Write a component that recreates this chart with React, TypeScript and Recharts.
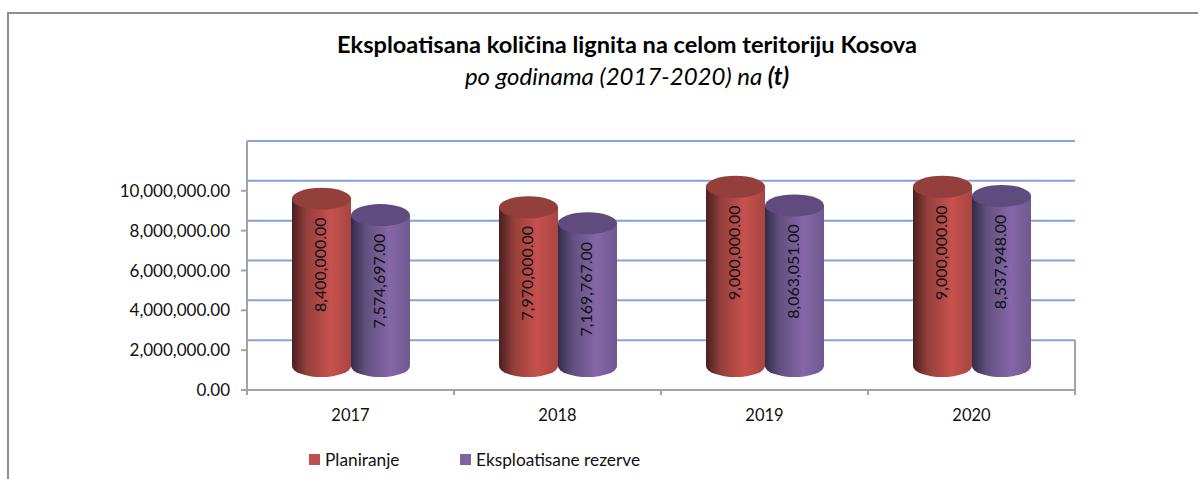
import { BarChart, Bar, XAxis, YAxis, CartesianGrid, Legend, LabelList, usePlotArea } from "recharts";

const YEARS = ["2017", "2018", "2019", "2020"];
const PLANIRANJE = [8400000, 7970000, 9000000, 9000000];
const EKSPLOATISANE = [7574697, 7169767, 8063051, 8537948];
const Y_TICKS = [0, 2000000, 4000000, 6000000, 8000000, 10000000];
const WALL_LINES = [2500000, 4500000, 6500000, 8500000, 10500000, 12500000];

const data = YEARS.map((year, i) => ({
  year,
  planiranje: PLANIRANJE[i],
  eksploatisane: EKSPLOATISANE[i],
}));

const FONT = "Lato, 'Open Sans', sans-serif";
const BLUE = "#83a5d4";
const GREY = "#a3a3a3";
// the cylinders stand on the floor of the 3D box, not on the axis line
const FLOOR_LIFT = 24;
const CAP_RY = 11;
const WIDTH = 1198;
const HEIGHT = 479;
const Y_AXIS_WIDTH = 120;
// y axis and x axis + legend take their own room on top of this
const MARGIN = { top: 141, right: 123, bottom: 38, left: 127 };
const BAND = (WIDTH - MARGIN.left - Y_AXIS_WIDTH - MARGIN.right) / YEARS.length;

const fmt = (v: number) =>
  v.toLocaleString("en-US", { minimumFractionDigits: 2, maximumFractionDigits: 2 });

function cylinder(gradient: string, capColor: string) {
  return (props: any) => {
    const { x, y, width, height } = props;
    const rx = width / 2;
    const top = y - FLOOR_LIFT;
    const bottom = y + height - FLOOR_LIFT;
    return (
      <g>
        <path
          d={`M${x},${top} L${x},${bottom} A${rx},${CAP_RY} 0 0 0 ${x + width},${bottom} L${x + width},${top} Z`}
          fill={`url(#${gradient})`}
        />
        <ellipse cx={x + rx} cy={top} rx={rx} ry={CAP_RY} fill={capColor} />
      </g>
    );
  };
}

function BarValue(props: any) {
  const { x, y, width, value } = props;
  const cx = x + width / 2 - 2;
  const cy = y - FLOOR_LIFT + 66;
  return (
    <text
      x={cx}
      y={cy}
      transform={`rotate(-90 ${cx} ${cy})`}
      textAnchor="middle"
      dominantBaseline="central"
      fontFamily={FONT}
      fontSize={16}
      fill="#111"
    >
      {fmt(Number(value))}
    </text>
  );
}

function YearTick(props: any) {
  const { x, y, payload, index } = props;
  const isLast = index === YEARS.length - 1;
  return (
    <g>
      <line x1={x - BAND / 2} x2={x - BAND / 2} y1={y - 8} y2={y - 3} stroke={GREY} strokeWidth={2} />
      {isLast && <line x1={x + BAND / 2} x2={x + BAND / 2} y1={y - 8} y2={y - 3} stroke={GREY} strokeWidth={2} />}
      <text x={x} y={y + 23} textAnchor="middle" fontFamily={FONT} fontSize={16.5} fill="#111">
        {payload.value}
      </text>
    </g>
  );
}

// back wall edges of the 3D box
function BoxEdges() {
  const plot = usePlotArea();
  if (!plot) return null;
  const right = plot.x + plot.width;
  const bottom = plot.y + plot.height;
  return (
    <g>
      <line x1={plot.x} x2={plot.x} y1={plot.y} y2={bottom - 50} stroke={BLUE} strokeWidth={2} />
      <line x1={right} x2={right} y1={bottom - 50} y2={bottom + 4} stroke={GREY} strokeWidth={2} />
    </g>
  );
}

function LegendRow() {
  const items = [
    { label: "Planiranje", color: "#c0504d", width: 151 },
    { label: "Eksploatisane rezerve", color: "#8064a2", width: 190 },
  ];
  return (
    <div style={{ display: "flex", fontFamily: FONT, fontSize: 17.3, color: "#111" }}>
      {items.map((it) => (
        <div key={it.label} style={{ display: "flex", alignItems: "center", width: it.width }}>
          <span style={{ width: 11, height: 11, background: it.color, marginRight: 5 }} />
          {it.label}
        </div>
      ))}
    </div>
  );
}

export default function App() {
  return (
    <div style={{ position: "absolute", left: 0, top: 0, width: WIDTH, height: HEIGHT, overflow: "hidden", background: "#fff" }}>
      <div style={{ position: "absolute", left: 7, top: 12, right: 0, bottom: 0, borderTop: "2px solid #8f8f8f", borderLeft: "2px solid #8f8f8f" }} />
      <div style={{ position: "absolute", left: 0, width: 1254, top: 30, textAlign: "center", fontFamily: FONT, fontSize: 23.6, fontWeight: 700, color: "#000", lineHeight: "28px" }}>
        Eksploatisana količina lignita na celom teritoriju Kosova
      </div>
      <div style={{ position: "absolute", left: 0, width: 1254, top: 62, textAlign: "center", fontFamily: FONT, fontSize: 24, fontStyle: "italic", color: "#000", lineHeight: "28px" }}>
        po godinama (2017-2020) na <b>(t)</b>
      </div>
      <BarChart width={WIDTH} height={HEIGHT} data={data} margin={MARGIN} barGap={0} barSize={59} style={{ position: "absolute", left: 0, top: 0 }}>
        <defs>
          <linearGradient id="redBody" x1="0" y1="0" x2="1" y2="0">
            <stop offset="0%" stopColor="#4a201f" />
            <stop offset="25%" stopColor="#943f3c" />
            <stop offset="65%" stopColor="#c7514e" />
            <stop offset="100%" stopColor="#a84542" />
          </linearGradient>
          <linearGradient id="purpleBody" x1="0" y1="0" x2="1" y2="0">
            <stop offset="0%" stopColor="#352a4a" />
            <stop offset="25%" stopColor="#61507f" />
            <stop offset="65%" stopColor="#8566a8" />
            <stop offset="100%" stopColor="#6f5a90" />
          </linearGradient>
        </defs>
        <CartesianGrid horizontalValues={WALL_LINES} vertical={false} stroke={BLUE} strokeWidth={2} />
        <BoxEdges />
        <XAxis dataKey="year" axisLine={{ stroke: GREY, strokeWidth: 2 }} tickLine={false} tick={<YearTick />} interval={0} height={30} />
        <YAxis
          domain={[0, 12500000]}
          ticks={Y_TICKS}
          tickFormatter={fmt}
          axisLine={{ stroke: GREY, strokeWidth: 2 }}
          tickLine={{ stroke: GREY, strokeWidth: 2 }}
          tickSize={6}
          tickMargin={11}
          tick={{ fontFamily: FONT, fontSize: 17, fill: "#111" }}
          width={Y_AXIS_WIDTH}
        />
        <Legend
          content={<LegendRow />}
          wrapperStyle={{ position: "absolute", left: 309, top: 449, width: 400, bottom: "auto" }}
        />
        <Bar dataKey="planiranje" name="Planiranje" isAnimationActive={false} shape={cylinder("redBody", "#93403d")}>
          <LabelList dataKey="planiranje" content={<BarValue />} />
        </Bar>
        <Bar dataKey="eksploatisane" name="Eksploatisane rezerve" isAnimationActive={false} shape={cylinder("purpleBody", "#5f4b7d")}>
          <LabelList dataKey="eksploatisane" content={<BarValue />} />
        </Bar>
      </BarChart>
    </div>
  );
}
